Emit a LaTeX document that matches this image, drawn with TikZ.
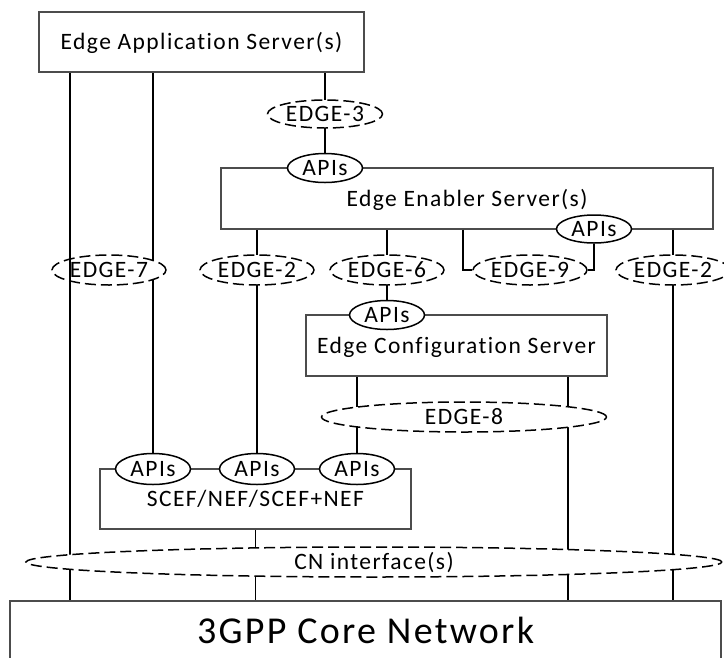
\documentclass[tikz,border=0pt]{standalone}
\usepackage{fontspec}
\setmainfont{Carlito}[LetterSpace = 6, Ligatures = NoCommon]
\usetikzlibrary{shapes.geometric}
\usetikzlibrary{backgrounds}

\tikzset{
	box/.style = {draw = black!70, line width = 1.2pt, rectangle, inner sep = 0pt, text height = 15pt, text depth = 0pt, font = \fontsize{23.5}{27}\selectfont},
	api/.style = {draw, ellipse, fill = white, line width = 1.5pt, minimum width = 75pt, minimum height = 29pt, inner sep = 0pt, text height = 15pt, text depth = 0pt, font = \fontsize{23.5}{27}\selectfont},
	iface/.style = {draw, ellipse, fill = white, line width = 1.5pt, dash pattern = on 11pt off 5pt, minimum width = 114pt, minimum height = 30pt, inner sep = 0pt, text height = 15pt, text depth = 0pt, font = \fontsize{23.5}{27}\selectfont},
	link/.style = {line width = 1.7pt}
}

\begin{document}
\begin{tikzpicture}[x = 1pt, y = -1pt]
	\useasboundingbox (0,0) rectangle (724,657);

	\node [box, minimum width = 325pt, minimum height = 60pt] (eas) at (201.5,42) {Edge Application Server(s)};
	\node [box, minimum width = 492pt, minimum height = 61pt] (ees) at (467,198.5) {Edge Enabler Server(s)};
	\node [box, minimum width = 301pt, minimum height = 61pt] (ecs) at (456.5,345.5) {Edge Configuration Server};
	\node [box, minimum width = 311pt, minimum height = 60pt] (scef) at (255.5,499) {SCEF/NEF/SCEF+NEF};
	\node [box, minimum width = 711pt, minimum height = 60pt, text height = 24pt, font = \fontsize{38}{44}\selectfont] (core) at (365.5,631) {3GPP Core Network};

	\node [iface, minimum width = 115pt, minimum height = 28pt] (edge3) at (325,114) {EDGE-3};
	\foreach \x/\n/\t in {109/edge7/EDGE-7, 257/edge2a/EDGE-2, 387/edge6/EDGE-6, 530/edge9/EDGE-9, 673/edge2b/EDGE-2}
		\node [iface] (\n) at (\x,270) {\t};
	\node [iface, minimum width = 285pt] (edge8) at (464,417) {EDGE-8};
	\node [iface, minimum width = 696pt] (cn) at (374,562) {CN interface(s)};

	\node [api] (apitop) at (325,168) {APIs};
	\node [api, minimum height = 28pt] (apibot) at (594,229) {APIs};
	\node [api] (apiecs) at (387,315) {APIs};
	\foreach \x/\n in {153/apia, 257/apib, 357/apic}
		\node [api, minimum height = 31pt] (\n) at (\x,469) {APIs};

	\coordinate (t1) at (70,0);
	\coordinate (t2) at (568,0);

	\begin{pgfonlayer}{background}
		\draw [link] (eas.south -| t1) -- (core.north -| t1);
		\draw [link] (eas.south -| apia) -- (apia);
		\draw [link] (eas.south -| apitop) -- (apitop);
		\draw [link] (ees.south -| apib) -- (apib);
		\draw [link] (ees.south -| apiecs) -- (apiecs);
		\draw [link] (ees.south -| edge2b) -- (core.north -| edge2b);
		\draw [link] (ecs.south -| apic) -- (apic);
		\draw [link] (ecs.south -| t2) -- (core.north -| t2);
		\draw [link] (scef.south) -- (core.north -| scef.south);
	\end{pgfonlayer}

	\draw [link] ([xshift = -4pt] ees.south) |- (edge9.west);
	\draw [link] (apibot.south) |- (edge9.east);
	\draw [link] (edge7.north -| t1) -- (edge7.south -| t1);
\end{tikzpicture}
\end{document}
